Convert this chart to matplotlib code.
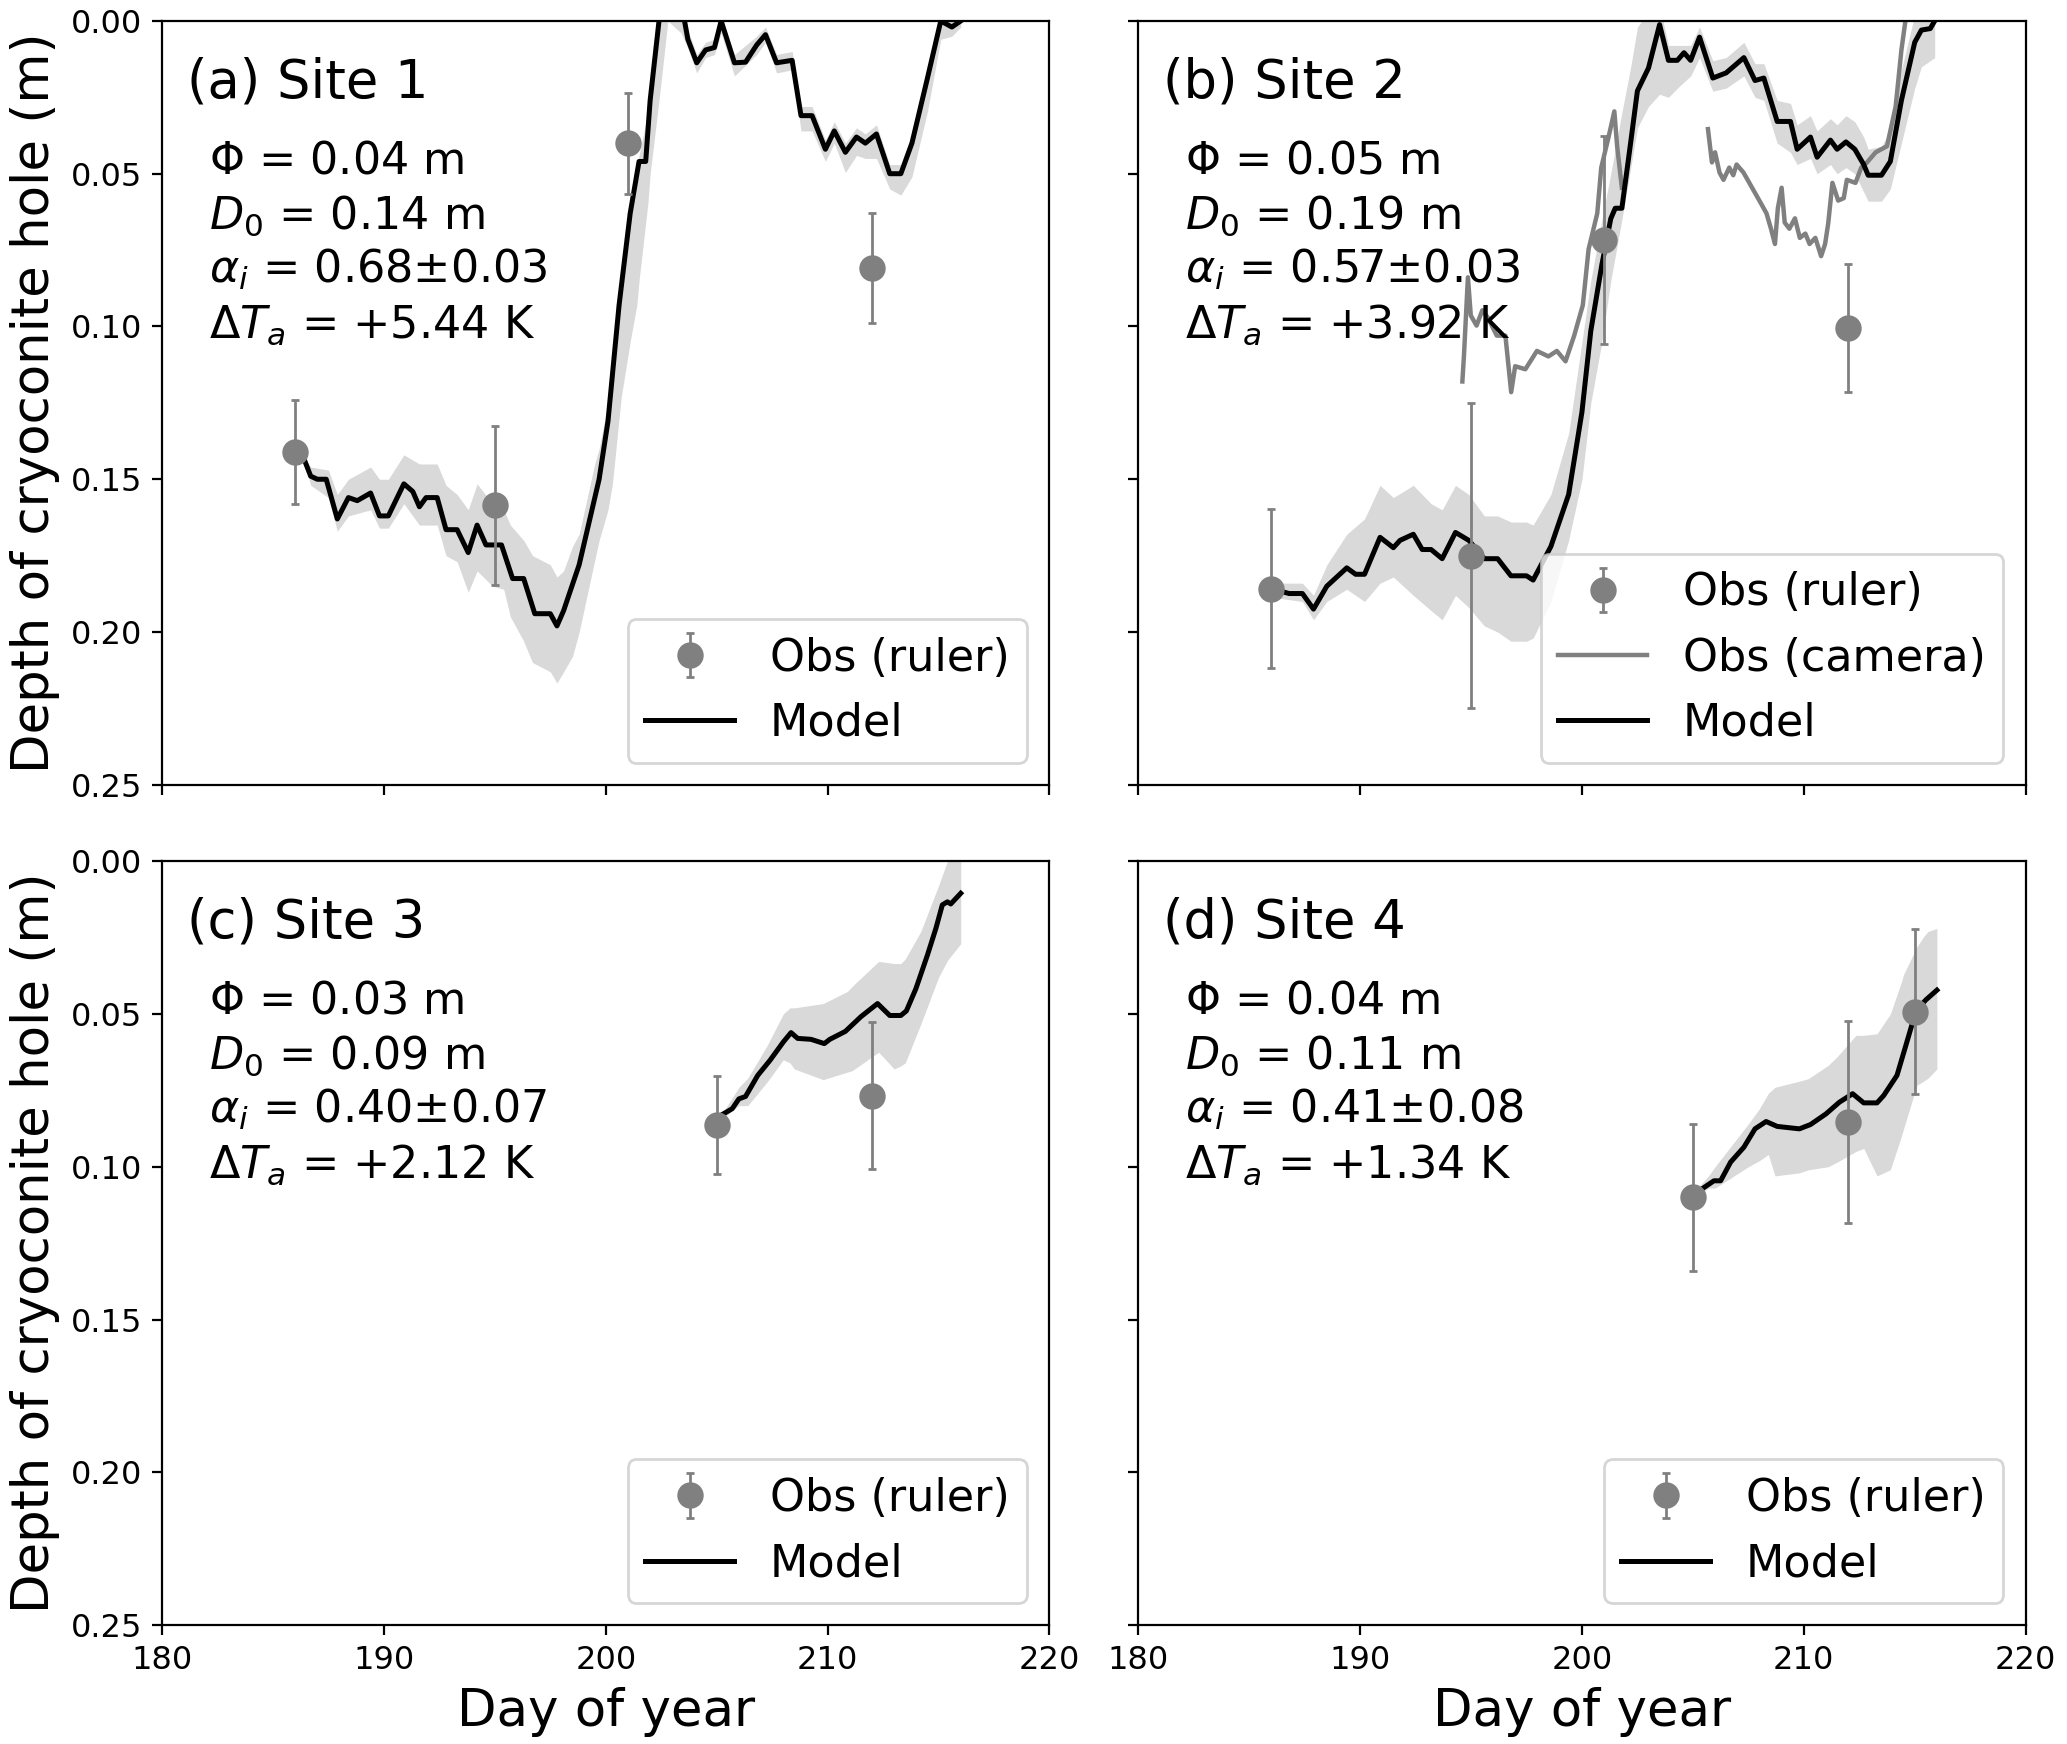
import numpy as np
import matplotlib.pyplot as plt
from matplotlib.lines import Line2D

# ====================== DATA ======================
# Site 1
s1_obs_day = [186, 195, 201, 212]
s1_obs_depth = [0.141, 0.1585, 0.040, 0.081]
s1_obs_err = [0.017, 0.026, 0.0165, 0.018]
s1_mod_day = [186.3, 186.7, 187.0, 187.4, 187.9, 188.4, 188.8, 189.4, 189.8, 190.2, 190.9, 191.3, 191.6,
              191.9, 192.4, 192.8, 193.3, 193.8, 194.2, 194.6, 195.3, 195.8, 196.3, 196.8, 197.5, 197.8,
              198.1, 198.8, 199.7, 200.1, 200.6, 201.1, 201.5, 201.8, 202.0, 202.4, 202.7, 203.2, 203.5,
              203.7, 204.1, 204.5, 204.9, 205.2, 205.8, 206.3, 206.8, 207.2, 207.7, 208.4, 208.8, 209.3,
              209.9, 210.3, 210.8, 211.3, 211.7, 212.2, 212.8, 213.3, 213.8, 214.5, 215.1, 215.6, 216.0]
s1_mod_depth = [0.1415, 0.149, 0.150, 0.150, 0.163, 0.156, 0.157, 0.1545, 0.162, 0.162, 0.1515, 0.154, 0.159,
                0.156, 0.156, 0.1665, 0.1665, 0.174, 0.165, 0.1715, 0.1715, 0.1825, 0.1825, 0.194, 0.194, 0.198,
                0.193, 0.178, 0.150, 0.131, 0.093, 0.063, 0.046, 0.046, 0.026, 0.000, -0.008, -0.008, -0.002,
                0.006, 0.0137, 0.0095, 0.0087, 0.0, 0.0137, 0.0135, 0.0079, 0.0045, 0.0137, 0.0129, 0.031, 0.031,
                0.042, 0.036, 0.043, 0.038, 0.040, 0.037, 0.050, 0.050, 0.040, 0.0187, 0.0, 0.002, 0.0]
s1_band_day = [186.3, 186.7, 187.5, 187.9, 188.4, 189.4, 189.8, 190.2, 190.9, 191.6, 192.4, 192.8, 193.3,
               193.8, 194.2, 194.9, 195.4, 195.7, 196.3, 196.7, 197.5, 197.8, 198.1, 198.5, 198.8, 199.5,
               199.7, 200.1, 200.3, 200.6, 200.7, 201.1, 201.4, 201.5, 201.9, 202.0, 202.4, 202.8, 203.4,
               203.7, 204.1, 204.5, 204.9, 205.2, 205.8, 206.8, 207.2, 207.7, 208.4, 208.8, 209.3, 209.9,
               210.3, 210.8, 211.3, 211.7, 212.2, 212.8, 213.3, 213.8, 214.5, 215.1, 215.6, 216.0]
s1_band_lo = [0.1415, 0.146, 0.147, 0.155, 0.150, 0.146, 0.150, 0.150, 0.142, 0.145, 0.145, 0.152, 0.155,
              0.160, 0.1515, 0.158, 0.160, 0.165, 0.170, 0.175, 0.178, 0.182, 0.180, 0.172, 0.168, 0.145,
              0.140, 0.125, 0.115, 0.090, 0.085, 0.060, 0.048, 0.044, 0.030, 0.024, -0.005, -0.01, -0.01,
              0.003, 0.011, 0.007, 0.006, -0.002, 0.011, 0.005, 0.002, 0.011, 0.010, 0.028, 0.028, 0.039,
              0.033, 0.040, 0.035, 0.037, 0.034, 0.047, 0.047, 0.037, 0.015, -0.003, -0.002, -0.003]
s1_band_hi = [0.1415, 0.152, 0.156, 0.167, 0.162, 0.160, 0.166, 0.166, 0.158, 0.165, 0.165, 0.175, 0.177,
              0.187, 0.180, 0.185, 0.186, 0.195, 0.203, 0.210, 0.213, 0.2167, 0.213, 0.208, 0.200, 0.1766,
              0.170, 0.160, 0.1515, 0.130, 0.123, 0.105, 0.093, 0.085, 0.0596, 0.050, 0.026, 0.0, 0.004,
              0.009, 0.017, 0.012, 0.011, 0.004, 0.018, 0.011, 0.007, 0.017, 0.016, 0.036, 0.036, 0.046,
              0.040, 0.0496, 0.044, 0.045, 0.045, 0.055, 0.057, 0.051, 0.0296, 0.006, 0.005, 0.002]

# Site 2
s2_obs_day = [186, 195, 201, 212]
s2_obs_depth = [0.1858, 0.175, 0.0718, 0.1006]
s2_obs_err = [0.026, 0.050, 0.034, 0.021]
s2_cam1_day = [194.61, 194.68, 194.86, 194.99, 195.25, 195.51, 195.77, 196.16, 196.55, 196.81, 196.99,
               197.45, 197.97, 198.49, 198.87, 199.26, 199.65, 200.04, 200.3, 200.69, 200.87, 201.2,
               201.46, 201.59, 201.8]
s2_cam1_depth = [0.118, 0.1098, 0.0839, 0.0964, 0.0997, 0.0947, 0.0972, 0.103, 0.1030, 0.1215, 0.113,
                 0.114, 0.108, 0.1098, 0.108, 0.1114, 0.103, 0.093, 0.0747, 0.063, 0.048, 0.038,
                 0.0296, 0.0413, 0.0546]
s2_cam2_day = [205.68, 205.86, 206.0, 206.2, 206.38, 206.64, 206.82, 206.97, 207.28, 207.67, 208.06, 208.32,
               208.52, 208.7, 208.83, 209.0, 209.14, 209.35, 209.6, 209.82, 210.07, 210.26, 210.52, 210.78,
               210.96, 211.1, 211.29, 211.55, 211.8, 211.94, 212.33, 212.59, 212.85, 213.24, 213.75, 214.14,
               214.4, 214.58, 214.7]
s2_cam2_depth = [0.0354, 0.0463, 0.043, 0.0496, 0.052, 0.048, 0.0505, 0.047, 0.0496, 0.0546, 0.0596, 0.063,
                 0.068, 0.073, 0.0613, 0.0546, 0.066, 0.068, 0.0646, 0.071, 0.0696, 0.073, 0.071, 0.077,
                 0.073, 0.0663, 0.053, 0.0588, 0.058, 0.052, 0.053, 0.048, 0.0463, 0.043, 0.041, 0.028,
                 0.0095, 0.0, -0.005]
s2_mod_day = [186.4, 186.8, 187.4, 187.9, 188.5, 189.4, 189.8, 190.2, 190.9, 191.5, 191.8, 192.4, 192.8,
              193.2, 193.7, 194.3, 194.9, 195.6, 196.2, 196.8, 197.5, 197.8, 198.6, 199.4, 200.0, 200.4,
              200.9, 201.3, 201.5, 201.8, 202.2, 202.5, 203.0, 203.5, 203.9, 204.3, 204.6, 204.9, 205.3,
              205.9, 206.5, 207.3, 207.8, 208.2, 208.8, 209.4, 209.7, 210.3, 210.6, 211.2, 211.5, 211.9,
              212.3, 212.7, 212.9, 213.5, 213.9, 214.4, 215.0, 215.3, 215.7, 215.9]
s2_mod_depth = [0.1866, 0.1874, 0.1874, 0.1925, 0.185, 0.179, 0.1811, 0.1811, 0.169, 0.1724, 0.170, 0.168,
                0.173, 0.173, 0.176, 0.1674, 0.170, 0.176, 0.176, 0.1816, 0.1816, 0.183, 0.172, 0.155, 0.128,
                0.1014, 0.0797, 0.0647, 0.0613, 0.0613, 0.0396, 0.0229, 0.0154, 0.0012, 0.0129, 0.0129,
                0.0104, 0.0129, 0.0053, 0.0187, 0.017, 0.012, 0.0195, 0.0187, 0.0329, 0.0329, 0.042, 0.038,
                0.0446, 0.039, 0.042, 0.0396, 0.042, 0.047, 0.0505, 0.0505, 0.046, 0.026, 0.007, 0.003,
                0.0025, 0.0]
s2_band_day = [186.4, 187.4, 187.9, 188.5, 189.4, 190.2, 190.9, 191.5, 192.4, 193.2, 193.7, 194.3, 194.9,
               195.6, 196.2, 196.8, 197.5, 197.8, 198.6, 199.4, 200.0, 200.4, 200.9, 201.3, 201.8, 202.2,
               202.5, 203.0, 203.5, 203.9, 204.3, 204.9, 205.3, 205.9, 206.5, 207.3, 207.8, 208.2, 208.8,
               209.4, 209.7, 210.3, 210.6, 211.2, 211.5, 211.9, 212.3, 212.7, 212.9, 213.5, 213.9, 214.4,
               215.0, 215.3, 215.7, 215.9]
s2_band_lo = [0.184, 0.184, 0.188, 0.178, 0.168, 0.163, 0.152, 0.156, 0.152, 0.158, 0.160, 0.152, 0.155,
              0.162, 0.162, 0.164, 0.164, 0.165, 0.155, 0.135, 0.105, 0.085, 0.065, 0.050, 0.030, 0.015,
              0.002, -0.003, -0.005, 0.008, 0.008, 0.008, 0.002, 0.013, 0.012, 0.007, 0.014, 0.014, 0.026,
              0.027, 0.034, 0.031, 0.036, 0.032, 0.034, 0.031, 0.033, 0.038, 0.042, 0.041, 0.036, 0.016,
              -0.002, -0.005, -0.005, -0.005]
s2_band_hi = [0.189, 0.190, 0.196, 0.190, 0.186, 0.190, 0.184, 0.182, 0.188, 0.193, 0.196, 0.188, 0.192,
              0.198, 0.200, 0.203, 0.203, 0.202, 0.190, 0.170, 0.150, 0.125, 0.105, 0.085, 0.065, 0.048,
              0.035, 0.028, 0.024, 0.025, 0.022, 0.018, 0.012, 0.023, 0.022, 0.018, 0.025, 0.026, 0.040,
              0.043, 0.047, 0.045, 0.050, 0.047, 0.050, 0.048, 0.050, 0.056, 0.059, 0.059, 0.055, 0.040,
              0.022, 0.015, 0.013, 0.012]

# Site 3
s3_obs_day = [205, 212]
s3_obs_depth = [0.0863, 0.0767]
s3_obs_err = [0.016, 0.024]
s3_mod_day = [205.3, 205.7, 206.0, 206.3, 206.85, 207.4, 208.0, 208.35, 208.65, 209.25, 209.85, 210.1, 210.8,
              211.5, 212.25, 212.8, 213.3, 213.55, 213.98, 214.5, 214.88, 215.17, 215.4, 215.55, 216.0]
s3_mod_depth = [0.0827, 0.081, 0.0778, 0.077, 0.0701, 0.0652, 0.0592, 0.0561, 0.058, 0.0583, 0.0597, 0.0583,
                0.0557, 0.0509, 0.0466, 0.0505, 0.0505, 0.049, 0.0417, 0.0307, 0.022, 0.0143, 0.0133, 0.014,
                0.0105]
s3_band_day = [205.3, 206.0, 206.4, 207.3, 208.0, 208.3, 208.5, 209.8, 210.9, 211.1, 212.3, 213.0, 213.3,
               213.5, 214.2, 215.0, 215.4, 216.0]
s3_band_lo = [0.082, 0.074, 0.071, 0.060, 0.050, 0.048, 0.048, 0.0466, 0.0426, 0.041, 0.0328, 0.0335, 0.0335,
              0.032, 0.023, 0.008, 0.0, -0.002]
s3_band_hi = [0.084, 0.080, 0.080, 0.072, 0.065, 0.066, 0.068, 0.0715, 0.069, 0.0686, 0.0625, 0.068, 0.067,
              0.066, 0.0533, 0.038, 0.0325, 0.027]

# Site 4
s4_obs_day = [205, 212, 215]
s4_obs_depth = [0.110, 0.0854, 0.0493]
s4_obs_err = [0.024, 0.033, 0.027]
s4_mod_day = [205.1, 205.4, 205.95, 206.25, 206.7, 207.3, 207.8, 208.3, 208.8, 209.8, 210.3, 211.0, 211.6,
              212.2, 212.7, 213.3, 213.6, 214.2, 214.6, 215.0, 215.3, 215.5, 216.0]
s4_mod_depth = [0.109, 0.1073, 0.1046, 0.1046, 0.0985, 0.0936, 0.0876, 0.0852, 0.0868, 0.0876, 0.0862, 0.0827,
                0.0789, 0.0761, 0.0791, 0.0791, 0.0767, 0.0701, 0.0603, 0.0504, 0.047, 0.0454, 0.0422]
s4_band_day = [205.1, 205.7, 206.0, 207.5, 208.0, 208.4, 208.7, 209.8, 210.2, 211.1, 211.5, 212.35, 212.7,
               213.3, 213.9, 214.4, 214.5, 215.1, 215.4, 215.6, 216.0]
s4_band_lo = [0.108, 0.103, 0.100, 0.086, 0.081, 0.076, 0.074, 0.072, 0.0712, 0.0668, 0.064, 0.057, 0.057,
              0.0565, 0.050, 0.0395, 0.037, 0.028, 0.0247, 0.023, 0.022]
s4_band_hi = [0.110, 0.107, 0.107, 0.100, 0.098, 0.096, 0.103, 0.102, 0.101, 0.100, 0.0985, 0.095, 0.094,
              0.103, 0.101, 0.090, 0.0875, 0.0733, 0.072, 0.071, 0.068]

titles = ['(a) Site 1', '(b) Site 2', '(c) Site 3', '(d) Site 4']
params = [
    ['$\\Phi$ = 0.04 m', '$D_0$ = 0.14 m', '$\\alpha_i$ = 0.68$\\pm$0.03', '$\\Delta T_a$ = +5.44 K'],
    ['$\\Phi$ = 0.05 m', '$D_0$ = 0.19 m', '$\\alpha_i$ = 0.57$\\pm$0.03', '$\\Delta T_a$ = +3.92 K'],
    ['$\\Phi$ = 0.03 m', '$D_0$ = 0.09 m', '$\\alpha_i$ = 0.40$\\pm$0.07', '$\\Delta T_a$ = +2.12 K'],
    ['$\\Phi$ = 0.04 m', '$D_0$ = 0.11 m', '$\\alpha_i$ = 0.41$\\pm$0.08', '$\\Delta T_a$ = +1.34 K'],
]

sites = [
    (s1_obs_day, s1_obs_depth, s1_obs_err, s1_mod_day, s1_mod_depth, s1_band_day, s1_band_lo, s1_band_hi),
    (s2_obs_day, s2_obs_depth, s2_obs_err, s2_mod_day, s2_mod_depth, s2_band_day, s2_band_lo, s2_band_hi),
    (s3_obs_day, s3_obs_depth, s3_obs_err, s3_mod_day, s3_mod_depth, s3_band_day, s3_band_lo, s3_band_hi),
    (s4_obs_day, s4_obs_depth, s4_obs_err, s4_mod_day, s4_mod_depth, s4_band_day, s4_band_lo, s4_band_hi),
]

# ====================== FIGURE ======================
fig, axes = plt.subplots(2, 2, figsize=(10.335, 8.72), dpi=200, sharex=True, sharey=True)
fig.subplots_adjust(left=0.0784, right=0.980, top=0.988, bottom=0.0682, wspace=0.1, hspace=0.1)

obs_col = '#808080'
band_col = '#d9d9d9'

for k, ax in enumerate(axes.flat):
    od, odep, oerr, md, mdep, bd, blo, bhi = sites[k]
    ax.fill_between(bd, blo, bhi, color=band_col, lw=0, zorder=1)
    mod, = ax.plot(md, mdep, color='black', lw=1.8, zorder=3, label='Model')
    handles = []
    obs = ax.errorbar(od, odep, yerr=oerr, fmt='o', color=obs_col, ms=8.5, elinewidth=1,
                      capsize=1.5, capthick=1, zorder=4, label='Obs (ruler)')
    handles.append(obs)
    if k == 1:
        cam, = ax.plot(s2_cam1_day, s2_cam1_depth, color=obs_col, lw=1.6, zorder=2, label='Obs (camera)')
        ax.plot(s2_cam2_day, s2_cam2_depth, color=obs_col, lw=1.6, zorder=2)
        handles.append(cam)
    handles.append(mod)
    ax.legend(handles=handles, loc='lower right', fontsize=16)

    ax.text(0.028, 0.9, titles[k], transform=ax.transAxes, fontsize=19, ha='left', va='baseline')
    for j, s in enumerate(params[k]):
        ax.text(0.053, 0.80 - 0.0715 * j, s, transform=ax.transAxes, fontsize=16,
                ha='left', va='baseline')

    ax.set_xlim(180, 220)
    ax.set_ylim(0.25, 0.0)
    ax.set_xticks([180, 190, 200, 210, 220])
    ax.set_yticks([0.0, 0.05, 0.10, 0.15, 0.20, 0.25])
    ax.tick_params(labelsize=11.5)

for ax in axes[:, 0]:
    ax.set_ylabel('Depth of cryoconite hole (m)', fontsize=18.5)
for ax in axes[1, :]:
    ax.set_xlabel('Day of year', fontsize=18.5)

fig.savefig('out.png', dpi=200)
